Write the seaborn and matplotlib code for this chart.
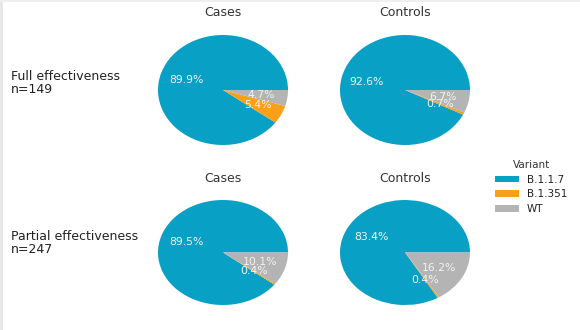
import matplotlib
matplotlib.use("Agg")
import matplotlib.pyplot as plt
from matplotlib.patches import Patch
from matplotlib.lines import Line2D
import seaborn as sns

sns.set_theme(style="white")
plt.rcParams["font.family"] = ["DejaVu Sans"]

variants = ["B.1.1.7", "B.1.351", "WT"]
colors = ["#08a0c4", "#f9a01b", "#b4b4b4"]
groups = ["Cases", "Controls"]
row_labels = ["Full effectiveness\nn=149", "Partial effectiveness\nn=247"]

full_cases = [89.9, 5.4, 4.7]
full_controls = [92.6, 0.7, 6.7]
partial_cases = [89.5, 0.4, 10.1]
partial_controls = [83.4, 0.4, 16.2]

panels = [[full_cases, full_controls], [partial_cases, partial_controls]]

W, H = 580, 330
fig = plt.figure(figsize=(W / 100, H / 100), dpi=100)
fig.patch.set_facecolor("white")

# pixel boxes for each pie panel: (left, top, width, height)
col_x = [158, 340]
row_box = [(35, 110), (200, 105)]
title_y = [12, 178]
label_y = [83, 243]

for r in range(2):
    top, h = row_box[r]
    for c in range(2):
        ax = fig.add_axes([col_x[c] / W, 1 - (top + h) / H, 130 / W, h / H])
        vals = panels[r][c]
        _, _, autotexts = ax.pie(
            vals, colors=colors, startangle=0, counterclock=True,
            autopct="%.1f%%", pctdistance=0.6,
            wedgeprops=dict(linewidth=0),
            textprops=dict(color="#f2f2f2", fontsize=7.8),
        )
        ax.set_aspect("auto")
        ax.set_xlim(-1, 1)
        ax.set_ylim(-1, 1)
        ax.axis("off")
        fig.text((col_x[c] + 65) / W, 1 - title_y[r] / H, groups[c],
                 ha="center", va="center", fontsize=9, color="#333333")
    fig.text(11 / W, 1 - label_y[r] / H, row_labels[r], ha="left", va="center",
             fontsize=9, color="#222222", linespacing=1.0)

handles = [Patch(facecolor=col, edgecolor="none") for col in colors]
leg = fig.legend(handles, variants, title="Variant", frameon=False,
                 loc="center left", bbox_to_anchor=(486 / W, 1 - 187 / H),
                 fontsize=7.5, title_fontsize=7.5, handlelength=2.3,
                 handleheight=0.65, labelspacing=0.45, handletextpad=0.7)
for t in leg.get_texts():
    t.set_color("#222222")
leg.get_title().set_color("#333333")

# faint frame along the top and left edges
fig.add_artist(Line2D([0.5 / W, 0.5 / W], [0, 1], transform=fig.transFigure,
                      color="#e6e6e6", linewidth=2))
fig.add_artist(Line2D([0, 1], [1 - 0.5 / H, 1 - 0.5 / H], transform=fig.transFigure,
                      color="#efefef", linewidth=1.5))

fig.savefig("out.png", dpi=100, facecolor="white")
